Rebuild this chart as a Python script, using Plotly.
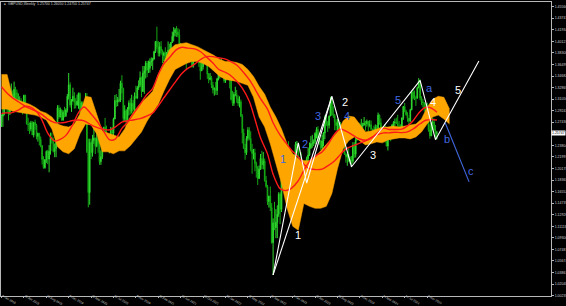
import pandas as pd
import plotly.graph_objects as go

# ---------------- weekly GBPUSD bars (open, high, low, close) in pips ----------------
ohlc_2019 = [
    (12740,12866,12670,12838),(12838,12980,12670,12880),(12880,13215,12850,13195),(13195,13215,13040,13075),
    (13075,13085,12890,12940),(12940,12960,12773,12905),(12905,13110,12855,13045),(13045,13350,13040,13185),
    (13185,13240,12960,13005),(13005,13380,12960,13260),(13260,13300,13005,13210),(13210,13255,12980,13035),
    (13035,13195,12960,13065),(13065,13150,13030,13080),(13080,13120,12960,12980),(12980,12995,12865,12945),
    (12945,13175,12885,13165),(13165,13175,12975,12995),(12995,13000,12710,12715),(12715,12815,12605,12705),
    (12705,12740,12560,12635),(12635,12765,12600,12735),(12735,12760,12545,12545),(12545,12750,12505,12740),
    (12740,12785,12625,12695),(12695,12720,12475,12520),(12520,12580,12440,12570),(12570,12575,12380,12475),
    (12475,12520,12350,12375),(12375,12385,12080,12160),(12160,12210,12015,12030),(12030,12165,12015,12155),
    (12155,12300,12105,12285),(12285,12310,12085,12165),(12165,12385,11958,12290),(12290,12580,12235,12505),
    (12505,12580,12410,12460),(12460,12505,12270,12285),(12285,12410,12195,12330),(12330,12710,12195,12665),
    (12665,13010,12625,12965),(12965,13010,12795,12825),(12825,12975,12820,12935),(12935,12945,12770,12775),
    (12775,12930,12770,12900),(12900,12985,12820,12845),(12845,12960,12825,12935),(12935,13185,12895,13150),
    (13150,13515,13100,13330),(13330,13370,12975,13015),(13015,13105,12905,13075),(13075,13285,13070,13150),
]
ohlc_2020 = [
    (13150,13215,12955,13055),(13055,13120,12960,13015),(13015,13175,13000,13075),(13075,13210,12955,13195),
    (13195,13210,12875,12900),(12900,13070,12870,13045),(13045,13070,12850,12960),(12960,13010,12725,12820),
    (12820,13200,12725,13085),(13085,13200,12260,12280),(12280,12485,11409,11640),(11640,12485,11450,12425),
    (12425,12485,12165,12265),(12265,12545,12205,12455),(12455,12650,12405,12495),(12495,12500,12245,12365),
    (12365,12645,12350,12490),(12490,12515,12265,12405),(12405,12435,12075,12125),(12125,12300,12075,12200),
    (12200,12375,12165,12345),(12345,12670,12340,12665),(12665,12810,12490,12555),(12555,12690,12335,12345),
    (12345,12545,12330,12335),(12335,12485,12255,12485),(12485,12670,12480,12620),(12620,12670,12480,12570),
    (12570,12815,12525,12795),(12795,13170,12790,13085),(13085,13185,12985,13060),(13060,13140,12995,13090),
    (13090,13265,13055,13090),(13090,13395,13060,13355),(13355,13480,13195,13275),(13275,13285,12760,12800),
    (12800,13010,12765,12925),(12925,12950,12675,12750),(12750,12980,12740,12945),(12945,13085,12850,13045),
    (13045,13120,12865,12915),(12915,13175,12880,13040),(13040,13090,12855,12945),(12945,13210,12855,13150),
    (13150,13315,13105,13125),(13125,13310,13105,13285),(13285,13400,13250,13325),(13325,13540,13295,13440),
    (13440,13460,13135,13225),(13225,13625,13220,13515),(13515,13625,13190,13550),(13550,13705,13430,13670),
]
ohlc_2021 = [
    (13670,13705,13450,13565),(13565,13710,13515,13590),(13590,13745,13520,13690),(13690,13760,13625,13705),
    (13705,13755,13565,13735),(13735,13865,13725,13850),(13850,14015,13830,14010),(14010,14241,13885,13925),
    (13925,14015,13775,13830),(13830,14000,13775,13930),(13930,14015,13805,13865),(13865,13885,13670,13790),
    (13790,13850,13700,13830),(13830,13920,13670,13700),(13700,13845,13680,13840),(13840,14010,13800,13875),
    (13875,13975,13800,13820),(13820,14000,13800,13995),(13995,14165,13990,14090),(14090,14235,14010,14150),
    (14150,14220,14090,14195),(14195,14250,14080,14160),(14160,14220,14075,14110),(14110,14200,13790,13805),
    (13805,13985,13790,13880),(13880,13900,13730,13830),(13830,13900,13730,13875),(13875,13910,13755,13760),
    (13760,13790,13570,13760),(13760,13985,13750,13900),(13900,13955,13860,13870),(13870,13895,13800,13865),
    (13865,13895,13600,13620),(13620,13785,13600,13760),(13760,13890,13725,13840),(13840,13890,13725,13835),
    (13835,13915,13735,13735),(13735,13750,13610,13675),(13675,13750,13410,13550),(13550,13675,13545,13615),
    (13615,13775,13570,13745),(13745,13835,13725,13755),(13755,13830,13670,13680),(13680,13700,13425,13500),
    (13500,13515,13355,13415),(13415,13515,13400,13440),(13440,13470,13280,13325),(13325,13375,13195,13255),
    (13255,13290,13160,13270),(13270,13375,13175,13240),(13240,13440,13170,13425),(13425,13550,13400,13530),
]
ohlc_2022 = [
    (13530,13600,13430,13590),(13590,13750,13575,13675),(13675,13705,13480,13480),(13480,13535,13360,13395),
    (13395,13640,13360,13525),(13525,13645,13490,13555),(13555,13645,13490,13590),(13590,13640,13275,13410),
    (13410,13440,13085,13100),(13100,13235,13000,13040),(13040,13215,13000,13180),(13180,13300,13150,13180),
    (13180,13250,13050,13115),(13115,13165,13000,13040),(13040,13150,12975,13065),(13065,13100,12825,12840),
    (12840,12870,12410,12575),(12575,12640,12325,12335),(12335,12405,12155,12265),(12265,12525,12230,12490),
    (12490,12665,12455,12620),(12620,12665,12460,12490),(12490,12600,12285,12310),(12310,12405,11935,12255),
    (12255,12325,12160,12265),(12265,12330,11975,12095),(12095,12125,11875,12030),(12030,12055,11760,11860),
    (11860,12065,11855,12005),(12005,12245,11995,12175),(12175,12295,12005,12075),(12075,12275,12005,12135),
    (12135,12175,11810,11830),(11830,11900,11715,11735),(11735,11760,11445,11500),(11500,11590,11405,11585),
    (11585,11735,11350,11405),(11405,11475,10840,10855),(10855,11235,10350,11165),(11165,11495,11050,11090),
    (11090,11380,10925,11175),(11175,11440,10925,11300),(11300,11645,11260,11615),(11615,11645,11145,11375),
    (11375,11855,11335,11840),(11840,12030,11710,11890),(11890,12155,11765,12090),(12090,12345,11900,12270),
    (12270,12345,12105,12265),(12265,12445,12140,12140),(12140,12245,11990,12050),(12050,12125,11990,12100),
]
ohlc_2023 = [
    (12100,12110,11840,12090),(12090,12245,12065,12225),(12225,12435,12210,12395),(12395,12450,12260,12395),
    (12395,12420,12050,12050),(12050,12195,11960,12115),(12115,12270,11915,12035),(12035,12150,11925,11945),
    (11945,12145,11925,12040),(12040,12145,11805,12030),(12030,12205,11975,12175),(12175,12345,12130,12230),
    (12230,12425,12215,12335),(12335,12525,12330,12410),(12410,12545,12345,12415),(12415,12475,12370,12440),
    (12440,12585,12400,12570),(12570,12665,12490,12630),(12630,12680,12445,12450),(12450,12545,12390,12445),
    (12445,12470,12310,12345),(12345,12545,12310,12450),(12450,12590,12365,12575),(12575,12850,12480,12820),
    (12820,12850,12685,12715),(12715,12760,12590,12695),(12695,12850,12645,12840),(12840,13142,12840,13090),
    (13090,13125,12850,12855),(12855,12995,12810,12850),(12850,12875,12620,12745),(12745,12790,12615,12690),
    (12690,12800,12620,12735),(12735,12770,12550,12580),(12580,12745,12560,12590),(12590,12640,12445,12465),
    (12465,12545,12380,12380),(12380,12425,12230,12240),(12240,12270,12110,12200),(12200,12240,12060,12240),
    (12240,12335,12125,12130),(12130,12205,12090,12155),(12155,12215,12037,12130),(12130,12430,12095,12380),
    (12380,12430,12185,12240),(12240,12505,12190,12465),(12465,12615,12460,12600),(12600,12730,12590,12710),
    (12710,12735,12500,12545),(12545,12795,12500,12680),(12680,12735,12615,12700),(12700,12825,12690,12730),
    (12730,12765,12610,12720),
]
ohlc_2024 = [
    (12720,12785,12675,12755),(12755,12765,12595,12700),(12700,12775,12665,12705),(12705,12770,12620,12635),
    (12635,12640,12520,12625),(12625,12690,12535,12600),(12600,12710,12570,12665),(12665,12700,12605,12650),
    (12650,12895,12635,12855),(12855,12865,12705,12735),(12735,12805,12575,12600),(12600,12660,12580,12625),
    (12625,12685,12540,12645),(12645,12710,12425,12450),(12450,12495,12365,12370),(12370,12510,12300,12490),
    (12490,12635,12465,12545),(12545,12590,12445,12525),(12525,12710,12510,12705),(12705,12760,12675,12740),
    (12740,12800,12680,12745),(12745,12815,12720,12725),(12725,12860,12675,12690),(12690,12760,12625,12645),
    (12645,12710,12610,12645),(12645,12820,12635,12810),(12810,12995,12780,12990),(12990,13045,12900,12915),
    (12915,12940,12845,12860),(12860,12900,12750,12805),(12805,12810,12665,12760),(12760,12955,12750,12940),
    (12940,13230,12930,13215),(13215,13265,13100,13125),(13125,13240,13090,13125),(13125,13160,13000,13120),
    (13120,13300,13115,13285),(13285,13434,13275,13380),(13380,13415,13090,13125),(13125,13150,13010,13065),
    (13065,13105,12975,13050),(13050,13060,12910,12960),(12960,13045,12845,12895),(12895,13050,12835,12910),
    (12910,12920,12595,12625),(12625,12710,12485,12530),(12530,12750,12525,12730),(12730,12810,12620,12745),
    (12745,12800,12600,12620),(12620,12700,12475,12570),(12570,12605,12475,12575),
]
first_week = "2019-01-06"

# ---------------- orange cloud (every 4 weeks) ----------------
cloud_top = [
    1.3493,1.3493,1.3135,1.3089,1.3057,1.3026,1.2980,1.2917,1.2886,1.2824,
    1.2715,1.2684,1.2668,1.2715,1.2871,1.3151,1.3135,1.2871,1.2606,1.2575,
    1.2544,1.2513,1.2637,1.2824,1.2949,1.3057,1.3135,1.3229,1.3493,1.3695,
    1.3882,1.3960,1.3976,1.3991,1.3960,1.3929,1.3882,1.3836,1.3789,1.3727,
    1.3695,1.3695,1.3680,1.3649,1.3571,1.3462,1.3306,1.3182,1.2980,1.2824,
    1.2637,1.2404,1.2248,1.2171,1.2140,1.2140,1.2202,1.2295,1.2388,1.2482,
    1.2591,1.2762,1.2840,1.2824,1.2715,1.2591,1.2606,1.2637,1.2668,1.2668,
    1.2684,1.2668,1.2684,1.2700,1.2715,1.2793,1.2980,1.3104,1.3151,1.3135,
    1.2949]
cloud_bottom = [
    1.2949,1.2949,1.2917,1.2902,1.2886,1.2871,1.2855,1.2824,1.2777,1.2637,
    1.2357,1.2279,1.2248,1.2326,1.2560,1.2715,1.2700,1.2560,1.2279,1.2279,
    1.2248,1.2295,1.2295,1.2373,1.2482,1.2591,1.2762,1.2902,1.3026,1.3229,
    1.3415,1.3571,1.3618,1.3664,1.3695,1.3695,1.3664,1.3618,1.3540,1.3462,
    1.3415,1.3400,1.3384,1.3353,1.3322,1.3135,1.2824,1.2668,1.2404,1.2093,
    1.1782,1.1393,1.1112,1.1050,1.1470,1.1424,1.1393,1.1393,1.1424,1.1626,
    1.2015,1.2326,1.2451,1.2513,1.2451,1.2388,1.2404,1.2435,1.2420,1.2466,
    1.2482,1.2497,1.2497,1.2482,1.2513,1.2591,1.2715,1.2824,1.2855,1.2793,
    1.2715]

# ---------------- red moving-average lines (month ends) ----------------
ma_dates = [
    "2019-01-06",
    "2019-01-27","2019-02-24","2019-03-31","2019-04-28","2019-05-26","2019-06-30",
    "2019-07-28","2019-08-25","2019-09-29","2019-10-27","2019-11-24","2019-12-29",
    "2020-01-26","2020-02-23","2020-03-29","2020-04-26","2020-05-31","2020-06-28",
    "2020-07-26","2020-08-30","2020-09-27","2020-10-25","2020-11-29","2020-12-27",
    "2021-01-31","2021-02-28","2021-03-28","2021-04-25","2021-05-30","2021-06-27",
    "2021-07-25","2021-08-29","2021-09-26","2021-10-24","2021-11-28","2021-12-26",
    "2022-01-30","2022-02-20","2022-03-27","2022-04-24","2022-05-29","2022-06-26",
    "2022-07-24","2022-08-28","2022-09-25","2022-10-30","2022-11-27","2022-12-25",
    "2023-01-29","2023-02-26","2023-03-26","2023-04-30","2023-05-28","2023-06-25",
    "2023-07-30","2023-08-27","2023-09-24","2023-10-29","2023-11-26","2023-12-31",
    "2024-01-28","2024-02-25","2024-03-31","2024-04-28","2024-05-26","2024-06-30",
    "2024-07-28","2024-08-25","2024-09-29","2024-10-27","2024-11-24","2024-12-22"]
ma_fast = [
    1.2880,
    1.2890,1.2890,1.2932,1.2986,1.2987,1.2911,1.2772,1.2573,1.2449,1.2474,1.2537,1.2711,
    1.2894,1.2983,1.2873,1.2767,1.2602,1.2472,1.2475,1.2646,1.2739,1.2869,1.3025,1.3153,
    1.3276,1.3491,1.3658,1.3759,1.3882,1.3919,1.3905,1.3895,1.3852,1.3776,1.3671,1.3575,
    1.3526,1.3488,1.3385,1.3279,1.3071,1.2795,1.2501,1.2247,1.1929,1.1702,1.1671,1.1707,
    1.1826,1.1988,1.2130,1.2223,1.2278,1.2390,1.2559,1.2637,1.2605,1.2541,1.2488,1.2460,
    1.2491,1.2566,1.2650,1.2630,1.2630,1.2635,1.2686,1.2768,1.2912,1.2978,1.2965,1.2901]
ma_slow = [
    1.3300,
    1.3222,1.3141,1.3064,1.3007,1.2960,1.2914,1.2862,1.2793,1.2738,1.2734,1.2744,1.2771,
    1.2778,1.2766,1.2702,1.2662,1.2631,1.2623,1.2666,1.2745,1.2766,1.2778,1.2800,1.2833,
    1.2889,1.2999,1.3127,1.3249,1.3400,1.3513,1.3587,1.3655,1.3723,1.3772,1.3773,1.3755,
    1.3734,1.3702,1.3641,1.3547,1.3410,1.3268,1.3112,1.2948,1.2735,1.2541,1.2423,1.2309,
    1.2197,1.2085,1.2015,1.2000,1.2008,1.2058,1.2140,1.2235,1.2325,1.2372,1.2409,1.2451,
    1.2501,1.2546,1.2576,1.2577,1.2587,1.2580,1.2591,1.2637,1.2719,1.2774,1.2784,1.2778]

# ---------------- wave drawings ----------------
wave_dates = ["2022-09-25","2023-01-29","2023-03-12","2023-07-16","2023-10-22",
              "2024-09-29","2024-12-15","2025-07-20"]
wave_prices = [1.0350, 1.2420, 1.1790, 1.3150, 1.2045, 1.3400, 1.2470, 1.3705]
wave2_dates = ["2022-09-25", "2023-07-16"]
wave2_prices = [1.0350, 1.3150]
alt_dates = ["2025-02-02", "2025-06-01"]
alt_prices = [1.2730, 1.1808]

white_labels = ["1", "2", "3", "4", "5"]
white_label_dates = ["2023-01-29","2023-09-17","2024-02-08","2024-12-01","2025-04-05"]
white_label_prices = [1.0977, 1.3062, 1.2233, 1.3060, 1.3244]
blue_labels = ["1", "2", "3", "4", "5", "a", "b", "c"]
blue_label_dates = ["2022-11-15","2023-03-04","2023-05-09","2023-10-01","2024-06-12",
                    "2024-11-14","2025-02-09","2025-06-09"]
blue_label_prices = [1.2171, 1.2404, 1.2835, 1.2835, 1.3093, 1.3286, 1.2482, 1.1973]

# ---------------- axes ----------------
price_ticks = [1.45560,1.43747,1.41934,1.40121,1.38308,1.36495,1.34682,1.32869,1.31056,
               1.29243,1.27430,1.23804,1.21991,1.20178,1.18365,1.16552,1.14739,1.12926,
               1.11113,1.09300,1.07487,1.05674,1.03861,1.02048,1.00235]
date_ticks = ["2019-01-06","2019-04-28","2019-08-18","2019-12-08","2020-03-29","2020-07-19",
              "2020-11-08","2021-02-28","2021-06-20","2021-10-10","2022-01-30","2022-05-22",
              "2022-09-11","2023-01-01","2023-04-23","2023-08-13","2023-12-03","2024-03-24",
              "2024-07-14","2024-11-03"]
date_tick_labels = ["6 Jan 2019","28 Apr 2019","18 Aug 2019","8 Dec 2019","29 Mar 2020",
                    "19 Jul 2020","8 Nov 2020","28 Feb 2021","20 Jun 2021","10 Oct 2021",
                    "30 Jan 2022","22 May 2022","11 Sep 2022","1 Jan 2023","23 Apr 2023",
                    "13 Aug 2023","3 Dec 2023","24 Mar 2024","14 Jul 2024","3 Nov 2024"]
title_text = "GBPUSD,Weekly  1.25700 1.26050 1.24750 1.25747"
last_price = 1.25747

# ---------------- build ----------------
weeks = ohlc_2019 + ohlc_2020 + ohlc_2021 + ohlc_2022 + ohlc_2023 + ohlc_2024
dates = pd.date_range(first_week, periods=len(weeks), freq="7D")
o = [w[0] / 10000 for w in weeks]
h = [w[1] / 10000 for w in weeks]
l = [w[2] / 10000 for w in weeks]
c = [w[3] / 10000 for w in weeks]
cloud_dates = pd.date_range(first_week, periods=len(cloud_top), freq="28D")

ORANGE = "#FFA500"
BLUE = "#4169E1"
fig = go.Figure()

fig.add_trace(go.Candlestick(
    x=dates, open=o, high=h, low=l, close=c,
    increasing=dict(line=dict(color="#2fd82f", width=1), fillcolor="#2fd82f"),
    decreasing=dict(line=dict(color="#14a814", width=1), fillcolor="#14a814"),
    whiskerwidth=0, hoverinfo="skip", showlegend=False))

fig.add_trace(go.Scatter(x=cloud_dates, y=cloud_bottom, mode="lines",
                         line=dict(color=ORANGE, width=0.5), showlegend=False, hoverinfo="skip"))
fig.add_trace(go.Scatter(x=cloud_dates, y=cloud_top, mode="lines", fill="tonexty",
                         fillcolor=ORANGE, line=dict(color=ORANGE, width=0.5),
                         showlegend=False, hoverinfo="skip"))

for vals in (ma_slow, ma_fast):
    fig.add_trace(go.Scatter(x=ma_dates, y=vals, mode="lines",
                             line=dict(color="#ff1a1a", width=1.4, shape="spline", smoothing=0.8),
                             showlegend=False, hoverinfo="skip"))

fig.add_trace(go.Scatter(x=wave2_dates, y=wave2_prices, mode="lines",
                         line=dict(color="#ffffff", width=1.1), showlegend=False, hoverinfo="skip"))
fig.add_trace(go.Scatter(x=wave_dates, y=wave_prices, mode="lines",
                         line=dict(color="#ffffff", width=1.1), showlegend=False, hoverinfo="skip"))
fig.add_trace(go.Scatter(x=alt_dates, y=alt_prices, mode="lines",
                         line=dict(color=BLUE, width=1.1), showlegend=False, hoverinfo="skip"))

label_font = "Liberation Sans, Arial, sans-serif"
for t, d, p in zip(white_labels, white_label_dates, white_label_prices):
    fig.add_annotation(x=d, y=p, text=t, showarrow=False,
                       font=dict(family=label_font, size=11, color="#ffffff"))
for t, d, p in zip(blue_labels, blue_label_dates, blue_label_prices):
    fig.add_annotation(x=d, y=p, text=t, showarrow=False,
                       font=dict(family=label_font, size=11, color=BLUE))

small = dict(family="Liberation Sans, Arial, sans-serif", size=3.5, color="#d0d0d0")
xsmall = dict(family="Liberation Sans, Arial, sans-serif", size=3.1, color="#d0d0d0")
fig.add_annotation(xref="paper", yref="paper", x=0.009, y=0.993, xanchor="left",
                   yanchor="middle", text=title_text, showarrow=False, font=small)
fig.add_annotation(xref="paper", yref="paper", x=0.001, y=0.993, xanchor="left",
                   yanchor="middle", text="■", showarrow=False,
                   font=dict(size=3, color="#a0a0a0"))
fig.add_annotation(xref="paper", x=1.0, y=last_price, xanchor="left", yanchor="middle",
                   text=f"{last_price:.5f}", showarrow=False, bgcolor="#ffffff",
                   borderpad=0, font=dict(family=small["family"], size=3.5, color="#000000"))

fig.update_layout(
    width=566, height=306,
    margin=dict(l=1, r=15, t=2, b=10),
    paper_bgcolor="#000000", plot_bgcolor="#000000",
    showlegend=False,
    xaxis=dict(type="date", range=["2019-01-03 12:00", "2026-07-15 12:00"],
               rangeslider=dict(visible=False), showgrid=False, zeroline=False,
               showline=True, linecolor="#b8b8b8", linewidth=1, mirror=True,
               ticks="outside", ticklen=1, tickcolor="#b8b8b8",
               tickvals=date_ticks, ticktext=date_tick_labels,
               ticklabelposition="outside right", ticklabelstandoff=-4,
               tickfont=xsmall, automargin=False),
    yaxis=dict(side="right", range=[1.0018, 1.4629], showgrid=False, zeroline=False,
               showline=True, linecolor="#b8b8b8", linewidth=1, mirror=True,
               ticks="outside", ticklen=2, tickcolor="#b8b8b8",
               tickvals=price_ticks, ticktext=[f"{v:.5f}" for v in price_ticks],
               tickfont=small, automargin=False),
)

fig.write_html("out.html")
